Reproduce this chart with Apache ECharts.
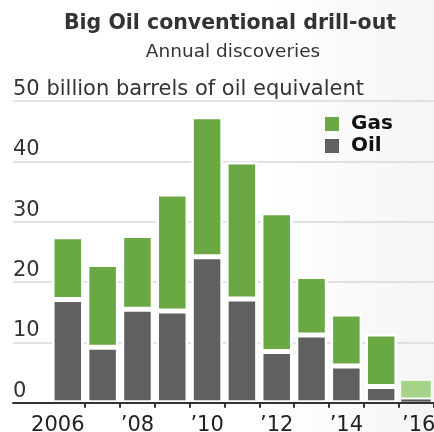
<!DOCTYPE html>
<html>
<head>
<meta charset="utf-8">
<script src="https://cdn.jsdelivr.net/npm/echarts@6/dist/echarts.min.js"></script>
<style>html,body{margin:0;padding:0;background:#fff}#c{width:434px;height:432px}</style>
</head>
<body>
<div id="c"></div>
<script>
var years = ['2006','2007','2008','2009','2010','2011','2012','2013','2014','2015','2016'];
var tickLabels = ['2006','','\u201908','','\u201910','','\u201912','','\u201914','','\u201916*'];
var oil = [17.1, 9.2, 15.5, 15.2, 24.2, 17.2, 8.5, 11.2, 6.1, 2.7, 0.7];
var gas = [10.4, 13.7, 12.2, 19.4, 23.2, 22.7, 23.0, 9.7, 8.6, 8.7, 3.1];
var yUnit = 'billion barrels of oil equivalent';

var GREEN = '#69a843', GRAY = '#606060';
var GREEN_L = '#a5d388', GRAY_L = '#5a5a5a';

var FONT = '"DejaVu Sans", sans-serif';
var chart = echarts.init(document.getElementById('c'), null, {renderer: 'canvas'});

function items(arr, lightColor) {
  return arr.map(function (v, i) {
    return i === arr.length - 1 ? {value: v, itemStyle: {color: lightColor, borderWidth: 1}} : v;
  });
}

var option = {
  backgroundColor: {
    type: 'linear', x: 0, y: 0, x2: 1, y2: 0,
    colorStops: [{offset: 0, color: '#ffffff'}, {offset: 0.6, color: '#ffffff'}, {offset: 1, color: '#f5f5f5'}]
  },
  animation: false,
  title: [
    {text: 'Big Oil conventional drill-out', left: 225, top: 8, textAlign: 'center',
     textStyle: {fontFamily: FONT, fontSize: 20.5, fontWeight: 'bold', color: '#333'}},
    {text: 'Annual discoveries', left: 228, top: 38, textAlign: 'center',
     textStyle: {fontFamily: FONT, fontSize: 18.5, fontWeight: 'normal', color: '#333'}}
  ],
  legend: {
    data: ['Gas', 'Oil'], orient: 'vertical', left: 325, top: 114, padding: 0,
    itemWidth: 14, itemHeight: 14, itemGap: 2, icon: 'rect',
    itemStyle: {borderWidth: 0},
    textStyle: {fontFamily: FONT, fontSize: 20, fontWeight: 'bold', color: '#111', padding: [0, 0, 0, 7], lineHeight: 20}
  },
  grid: [
    {left: 50.4, right: 0.6, top: 101, bottom: 29.3, containLabel: false, outerBoundsMode: 'none'},
    {left: 13, right: 0, top: 101, bottom: 29.3, containLabel: false, outerBoundsMode: 'none'}
  ],
  xAxis: [
    {type: 'category', gridIndex: 0, data: years, boundaryGap: true,
     axisLine: {show: false},
     axisTick: {show: true, length: 5, interval: function (i) { return i > 0; },
                lineStyle: {color: '#333', width: 2}},
     axisLabel: {interval: 0, margin: 12, fontFamily: FONT, fontSize: 21, color: '#222',
       formatter: function (v, i) {
         if (i === 0) return '{a|' + tickLabels[i] + '}';
         if (i === tickLabels.length - 1) return '{b|' + tickLabels[i] + '}';
         return tickLabels[i];
       },
       rich: {a: {fontFamily: FONT, fontSize: 21, color: '#222', padding: [0, 20, 0, 0]},
              b: {fontFamily: FONT, fontSize: 21, color: '#222', padding: [0, 0, 0, 16]}}}
    },
    {type: 'value', gridIndex: 1, min: 0, max: 1, z: 5,
     axisLine: {show: true, onZero: false, lineStyle: {color: '#333', width: 2}},
     axisTick: {show: false}, axisLabel: {show: false}, splitLine: {show: false}}
  ],
  yAxis: [
    {type: 'value', gridIndex: 0, min: 0, max: 50, interval: 10,
     axisLine: {show: false}, axisTick: {show: false}, axisLabel: {show: false}, splitLine: {show: false}},
    {type: 'value', gridIndex: 1, min: 0, max: 50, interval: 10,
     axisLine: {show: false}, axisTick: {show: false},
     splitLine: {show: true, lineStyle: {color: '#d9d9d9', width: 1.5}},
     axisLabel: {inside: true, margin: 0, verticalAlign: 'bottom', padding: [0, 0, 1, 0],
       fontFamily: FONT, fontSize: 21, color: '#333',
       formatter: function (v) { return v === 50 ? v + ' ' + yUnit : String(v); }}
    }
  ],
  series: [
    {name: 'Oil', type: 'bar', stack: 'total', xAxisIndex: 0, yAxisIndex: 0,
     barWidth: 31.5, data: items(oil, GRAY_L),
     itemStyle: {color: GRAY, borderColor: '#fff', borderWidth: 2.5}},
    {name: 'Gas', type: 'bar', stack: 'total', xAxisIndex: 0, yAxisIndex: 0,
     barWidth: 31.5, data: items(gas, GREEN_L),
     itemStyle: {color: GREEN, borderColor: '#fff', borderWidth: 2.5}}
  ]
};
chart.setOption(option);
</script>
</body>
</html>
